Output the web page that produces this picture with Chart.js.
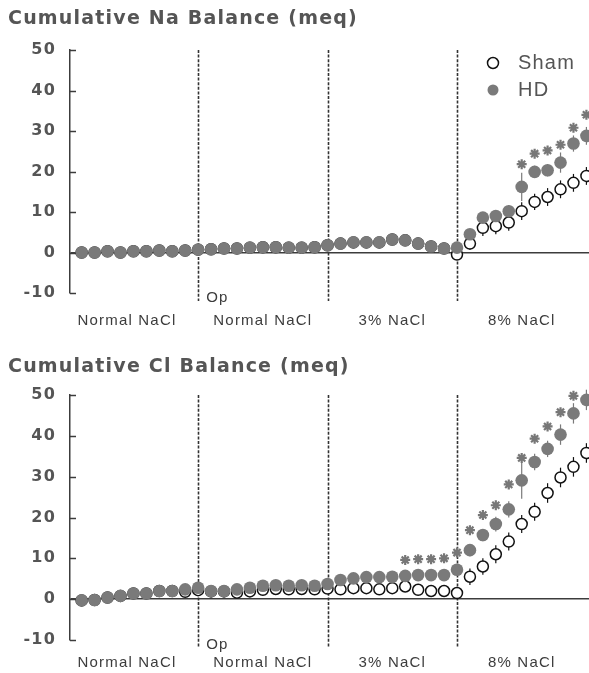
<!DOCTYPE html>
<html>
<head>
<meta charset="utf-8">
<script src="https://cdn.jsdelivr.net/npm/chart.js@4.4.0/dist/chart.umd.min.js"></script>
<style>
  html, body { margin: 0; padding: 0; background: #fff; }
  .box { position: absolute; left: 0; width: 589px; }
  #top { top: 0; height: 336px; }
  #bottom { top: 336px; height: 337px; }
</style>
</head>
<body>
<div class="box" id="top"><canvas id="naChart"></canvas></div>
<div class="box" id="bottom"><canvas id="clChart"></canvas></div>
<script>
// day index along the protocol (0..39)
var days = [];
for (var d = 0; d < 40; d++) days.push(d);

var sectionLabels = ["Normal NaCl", "Normal NaCl", "3% NaCl", "8% NaCl"];
var sectionCenters = [3.5, 14, 24, 34];
var sectionBounds = [9, 19, 29];
var yTickValues = [-10, 0, 10, 20, 30, 40, 50];

// Cumulative Na balance (meq)
var naSham = [0, 0, 0.3, 0, 0.3, 0.3, 0.5, 0.3, 0.5, 0.7,
              0.8, 1.0, 1.0, 1.2, 1.3, 1.3, 1.2, 1.2, 1.3, 1.8,
              2.2, 2.5, 2.5, 2.5, 3.2, 3.0, 2.2, 1.5, 1.0, -0.5,
              2.2, 6.1, 6.5, 7.4, 10.2, 12.5, 13.7, 15.6, 17.2, 18.9];
var naHD = [0, 0, 0.3, 0, 0.3, 0.3, 0.5, 0.3, 0.5, 0.7,
            0.8, 1.0, 1.0, 1.2, 1.3, 1.3, 1.2, 1.2, 1.3, 1.8,
            2.2, 2.5, 2.5, 2.5, 3.2, 3.0, 2.2, 1.5, 1.0, 1.2,
            4.5, 8.6, 9.0, 10.2, 16.2, 19.9, 20.3, 22.2, 26.9, 28.8];
var naShamErr = [null, null, null, null, null, null, null, null, null, null,
                 null, null, null, null, null, null, null, null, null, null,
                 null, null, null, null, null, null, null, null, null, null,
                 1.5, 2.0, 2.0, 2.0, 2.2, 2.0, 2.2, 2.2, 2.2, 2.2];
var naHDErr = [null, null, null, null, null, null, null, null, null, null,
               null, null, null, null, null, null, null, null, null, null,
               null, null, null, null, null, null, null, null, null, null,
               1.2, 1.2, 1.2, 1.5, 3.5, 1.5, 1.5, 2.5, 2.0, 2.2];
var naStars = [null, null, null, null, null, null, null, null, null, null,
               null, null, null, null, null, null, null, null, null, null,
               null, null, null, null, null, null, null, null, null, null,
               null, null, null, null, 21.8, 24.4, 25.2, 26.6, 30.8, 34.0];

// Cumulative Cl balance (meq)
var clSham = [-0.3, -0.2, 0.4, 0.8, 1.4, 1.4, 2.0, 2.0, 1.8, 2.2,
              1.9, 1.9, 1.6, 1.9, 2.3, 2.5, 2.4, 2.5, 2.4, 2.6,
              2.4, 2.7, 2.7, 2.4, 2.7, 3.1, 2.3, 2.0, 2.0, 1.5,
              5.5, 8.0, 11.0, 14.1, 18.4, 21.4, 26.0, 29.8, 32.4, 35.8];
var clHD = [-0.3, -0.2, 0.4, 0.8, 1.4, 1.4, 2.0, 2.0, 2.4, 2.8,
            2.0, 2.0, 2.4, 2.8, 3.3, 3.4, 3.3, 3.4, 3.3, 3.7,
            4.7, 5.1, 5.4, 5.4, 5.5, 5.7, 5.9, 5.9, 5.9, 7.2,
            12.0, 15.7, 18.4, 22.0, 29.1, 33.6, 36.8, 40.3, 45.5, 48.8];
var clShamErr = [null, null, null, null, null, null, null, null, null, null,
                 null, null, null, null, null, null, null, null, null, null,
                 null, null, null, null, null, null, null, null, null, null,
                 2.0, 2.0, 2.2, 2.2, 2.2, 2.2, 2.4, 2.4, 2.4, 2.4];
var clHDErr = [null, null, null, null, null, null, null, null, null, null,
               null, null, null, null, null, null, null, null, null, null,
               null, null, null, null, null, null, null, null, null, null,
               1.5, 1.5, 1.8, 2.0, 4.5, 2.0, 2.0, 2.5, 2.5, 2.5];
var clStars = [null, null, null, null, null, null, null, null, null, null,
               null, null, null, null, null, null, null, null, null, null,
               null, null, null, null, null, 9.6, 9.8, 9.8, 10.0, 11.4,
               16.9, 20.6, 23.0, 28.1, 34.6, 39.3, 42.3, 45.8, 49.8, 52.8];

var ink = '#3c3c3c';
var textGrey = '#555';
var hdGrey = '#7a7a7a';

function pts(values, errs) {
    return days.map(function(x, i) {
        return { x: x, y: values[i], err: errs ? errs[i] : null };
    });
}

var spacing = {
    id: 'spacing',
    beforeDraw: function(chart) { chart.ctx.letterSpacing = '1.2px'; }
};

var axisTicks = {
    id: 'axisTicks',
    afterDraw: function(chart) {
        var ctx = chart.ctx, y = chart.scales.y, left = chart.chartArea.left;
        ctx.save();
        ctx.strokeStyle = ink;
        ctx.lineWidth = 1.5;
        y.ticks.forEach(function(t) {
            var py = Math.round(y.getPixelForValue(t.value)) + 0.5;
            ctx.beginPath();
            ctx.moveTo(left, py);
            ctx.lineTo(left + 6, py);
            ctx.stroke();
        });
        ctx.restore();
    }
};

// dashed period boundaries, "Op" mark and SEM whiskers
var periods = {
    id: 'periods',
    beforeDatasetsDraw: function(chart) {
        var ctx = chart.ctx, x = chart.scales.x, y = chart.scales.y, area = chart.chartArea;
        ctx.save();
        ctx.strokeStyle = '#333';
        ctx.lineWidth = 1.6;
        ctx.setLineDash([3, 1.6]);
        sectionBounds.forEach(function(b) {
            var px = Math.round(x.getPixelForValue(b)) + 0.5;
            ctx.beginPath();
            ctx.moveTo(px, area.top);
            ctx.lineTo(px, area.bottom + 8);
            ctx.stroke();
        });
        ctx.setLineDash([]);
        ctx.lineWidth = 1.2;
        chart.data.datasets.forEach(function(ds) {
            ctx.strokeStyle = ds.pointBorderColor;
            ds.data.forEach(function(p) {
                if (p.err == null || p.y == null) return;
                var px = x.getPixelForValue(p.x);
                ctx.beginPath();
                ctx.moveTo(px, y.getPixelForValue(p.y - p.err));
                ctx.lineTo(px, y.getPixelForValue(p.y + p.err));
                ctx.stroke();
            });
        });
        ctx.restore();
    },
    afterDraw: function(chart) {
        var ctx = chart.ctx, x = chart.scales.x, area = chart.chartArea;
        ctx.save();
        ctx.fillStyle = ink;
        ctx.font = '15px "Liberation Sans"';
        ctx.textAlign = 'left';
        ctx.textBaseline = 'middle';
        ctx.fillText('Op', x.getPixelForValue(sectionBounds[0]) + 8, area.bottom + 5);
        ctx.restore();
    }
};

var legendBox = {
    id: 'legendBox',
    afterDraw: function(chart) {
        var ctx = chart.ctx, area = chart.chartArea;
        var cx = area.right - 96, cy = area.top + 13;
        ctx.save();
        ctx.font = '20px "Liberation Sans"';
        ctx.textAlign = 'left';
        ctx.textBaseline = 'middle';
        [['Sham', '#fff', '#111'], ['HD', hdGrey, hdGrey]].forEach(function(item, k) {
            var y = cy + k * 27;
            ctx.beginPath();
            ctx.arc(cx, y, 5.5, 0, Math.PI * 2);
            ctx.fillStyle = item[1];
            ctx.fill();
            if (k === 0) {
                ctx.lineWidth = 1.5;
                ctx.strokeStyle = item[2];
                ctx.stroke();
            }
            ctx.fillStyle = textGrey;
            ctx.fillText(item[0], cx + 25, y);
        });
        ctx.restore();
    }
};

function chart(name, title, sham, shamErr, hd, hdErr, stars, layout) {
    var extra = [spacing, axisTicks, periods];
    if (layout.legend) extra.push(legendBox);

    return new Chart(document.getElementById(name), {
        type: 'scatter',
        data: {
            datasets: [{
                label: 'Sham',
                data: pts(sham, shamErr),
                pointStyle: 'circle',
                pointRadius: 5.5,
                pointBorderWidth: 1.5,
                pointBackgroundColor: '#fff',
                pointBorderColor: '#111',
                clip: false,
                order: 2
            }, {
                label: 'HD',
                data: pts(hd, hdErr),
                pointStyle: 'circle',
                pointRadius: 6.3,
                pointBorderWidth: 0,
                pointBackgroundColor: hdGrey,
                pointBorderColor: hdGrey,
                clip: false,
                order: 1
            }, {
                label: 'p<0.05',
                data: pts(stars),
                pointStyle: 'star',
                pointRadius: 5,
                pointBorderWidth: 2.2,
                pointBorderColor: '#777',
                pointBackgroundColor: '#777',
                clip: false,
                order: 0
            }]
        },
        plugins: extra,
        options: {
            responsive: true,
            maintainAspectRatio: false,
            animation: false,
            devicePixelRatio: 1,
            layout: { autoPadding: false, padding: { left: 8, right: 0, top: 0, bottom: 0 } },
            plugins: {
                legend: { display: false },
                tooltip: { enabled: false },
                title: {
                    display: true,
                    text: title,
                    align: 'start',
                    color: textGrey,
                    font: { family: 'DejaVu Sans', weight: 'bold', size: 19 },
                    padding: layout.titlePad
                }
            },
            scales: {
                x: {
                    type: 'linear',
                    min: -0.9,
                    max: 39.2,
                    border: { display: false },
                    grid: { display: false, drawTicks: false },
                    afterBuildTicks: function(scale) {
                        scale.ticks = sectionCenters.map(function(v) { return { value: v }; });
                    },
                    afterFit: function(scale) { scale.height = layout.xHeight; },
                    ticks: {
                        autoSkip: false,
                        maxRotation: 0,
                        padding: layout.labelPad,
                        color: ink,
                        font: { family: 'Liberation Sans', size: 15 },
                        callback: function(value, index) { return sectionLabels[index]; }
                    }
                },
                y: {
                    min: -10,
                    max: 50,
                    border: { display: true, color: ink, width: 1.5 },
                    grid: {
                        drawTicks: false,
                        lineWidth: 1.5,
                        color: function(c) { return c.tick && c.tick.value === 0 ? ink : 'rgba(0,0,0,0)'; }
                    },
                    afterBuildTicks: function(scale) {
                        scale.ticks = yTickValues.map(function(v) { return { value: v }; });
                    },
                    afterFit: function(scale) { scale.width = 62; },
                    ticks: {
                        padding: 14,
                        color: textGrey,
                        font: { family: 'DejaVu Sans', weight: 'bold', size: 16 }
                    }
                }
            }
        }
    });
}

chart('naChart', 'Cumulative Na Balance (meq)', naSham, naShamErr, naHD, naHDErr, naStars,
      { legend: true, titlePad: { top: 7.6, bottom: 19.6 }, xHeight: 43, labelPad: 19 });
chart('clChart', 'Cumulative Cl Balance (meq)', clSham, clShamErr, clHD, clHDErr, clStars,
      { legend: false, titlePad: { top: 19.6, bottom: 16.6 }, xHeight: 33, labelPad: 14 });
</script>
</body>
</html>
